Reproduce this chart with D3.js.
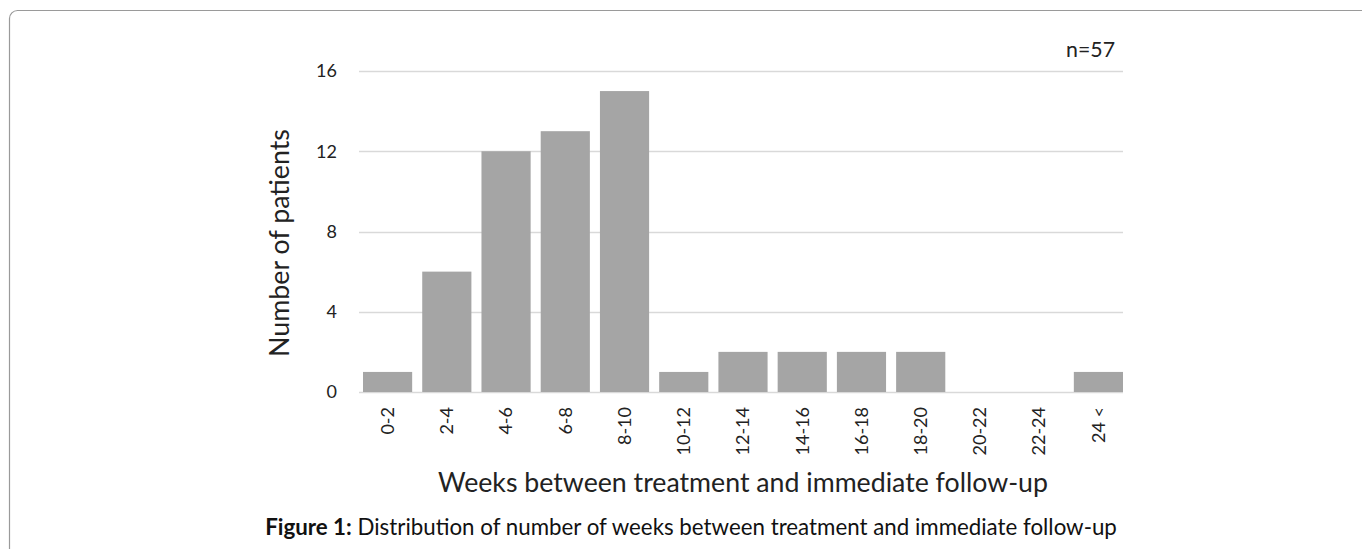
<!DOCTYPE html>
<html><head><meta charset="utf-8">
<script src="https://cdn.jsdelivr.net/npm/d3@7"></script>
<style>body{margin:0;background:#fff}svg{display:block}</style>
</head><body>
<script>
const categories = ["0-2","2-4","4-6","6-8","8-10","10-12","12-14","14-16","16-18","18-20","20-22","22-24","24 <"];
const patients = [1,6,12,13,15,1,2,2,2,2,0,0,1];
const yTicks = [0,4,8,12,16];
const nLabel = "n=57";
const yTitle = "Number of patients";
const xTitle = "Weeks between treatment and immediate follow-up";
const captionBold = "Figure 1:";
const captionText = " Distribution of number of weeks between treatment and immediate follow-up";

const W = 1362, H = 549;
const font = "Lato, 'Open Sans', sans-serif";
const svg = d3.select("body").append("svg").attr("width", W).attr("height", H);

// scale a text's font-size so it spans a target width
function fitWidth(sel, target) {
  const node = sel.node();
  const fs = parseFloat(sel.attr("font-size"));
  const w = node.getComputedTextLength();
  if (w > 0) sel.attr("font-size", (fs * target / w).toFixed(2));
  return sel;
}

// frame
svg.append("rect").attr("x", 9.5).attr("y", 10.5).attr("width", 1400).attr("height", 600)
  .attr("rx", 8).attr("fill", "none").attr("stroke", "#9a9a9a").attr("stroke-width", 1.2);

const x = d3.scaleBand().domain(categories).range([363, 1123]).paddingInner(0.17).paddingOuter(0);
const y = d3.scaleLinear().domain([0, 16]).range([392, 71]);

// gridlines
svg.append("g").selectAll("line").data(yTicks).join("line")
  .attr("x1", 359).attr("x2", 1123)
  .attr("y1", d => Math.round(y(d)) + 0.5).attr("y2", d => Math.round(y(d)) + 0.5)
  .attr("stroke", "#d9d9d9").attr("stroke-width", 1.3);

// y axis labels
const yAxis = svg.append("g").attr("transform", "translate(359,0)")
  .call(d3.axisLeft(y).tickValues(yTicks).tickSize(0).tickPadding(22));
yAxis.select(".domain").remove();
yAxis.selectAll("text").attr("font-family", font).attr("font-size", 18).attr("fill", "#222");

// bars
svg.append("g").selectAll("rect").data(categories).join("rect")
  .attr("x", d => x(d)).attr("width", x.bandwidth())
  .attr("y", (d, i) => y(patients[i]))
  .attr("height", (d, i) => y(0) - y(patients[i]))
  .attr("fill", "#a5a5a5");

// x axis labels
const xAxis = svg.append("g").attr("transform", "translate(0,392)")
  .call(d3.axisBottom(x).tickSize(0).tickPadding(0));
xAxis.select(".domain").remove();
xAxis.selectAll("text")
  .attr("font-family", font).attr("font-size", 18).attr("fill", "#222")
  .attr("transform", "rotate(-90)")
  .attr("text-anchor", "end")
  .attr("x", -15).attr("y", 0).attr("dy", "0.35em");

// titles
fitWidth(svg.append("text").attr("transform", "translate(289,243) rotate(-90)")
  .attr("text-anchor", "middle").attr("font-family", font).attr("font-size", 26).attr("fill", "#222")
  .text(yTitle), 228);
fitWidth(svg.append("text").attr("x", 743).attr("y", 492).attr("text-anchor", "middle")
  .attr("font-family", font).attr("font-size", 26).attr("fill", "#222").text(xTitle), 610);
fitWidth(svg.append("text").attr("x", 1115).attr("y", 57).attr("text-anchor", "end")
  .attr("font-family", font).attr("font-size", 20).attr("fill", "#222").text(nLabel), 49);

const cap = svg.append("text").attr("x", 691).attr("y", 535).attr("text-anchor", "middle")
  .attr("font-family", font).attr("font-size", 18).attr("fill", "#111");
cap.append("tspan").attr("font-weight", "bold").text(captionBold);
cap.append("tspan").text(captionText);
fitWidth(cap, 852);
</script>
</body></html>
